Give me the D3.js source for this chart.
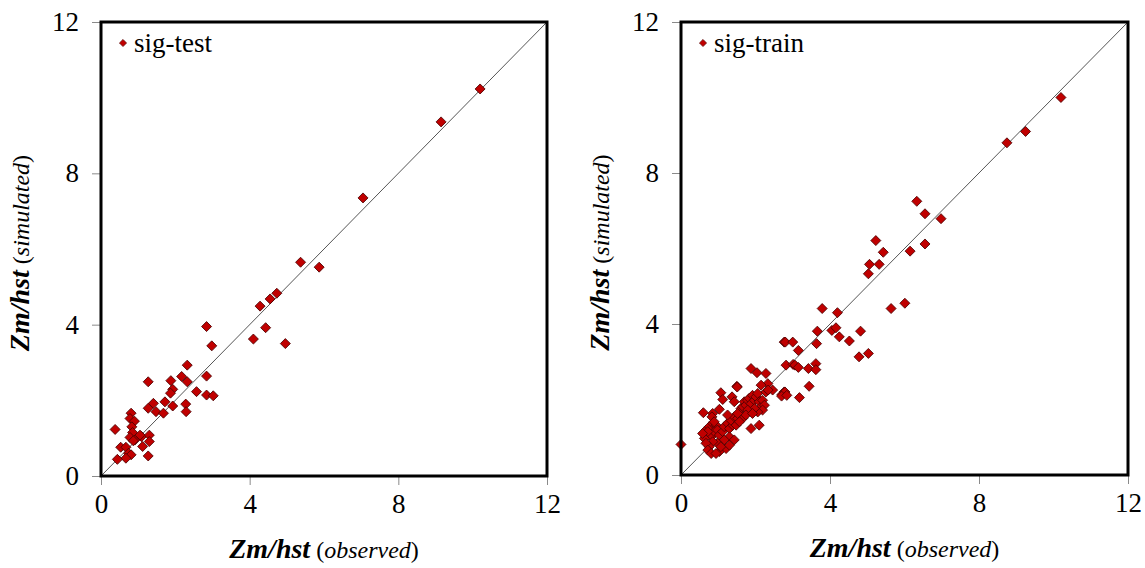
<!DOCTYPE html>
<html>
<head>
<meta charset="utf-8">
<script src="https://cdn.jsdelivr.net/npm/d3@7"></script>
<style>
  body { margin: 0; background: #fff; }
  svg text { font-family: "Liberation Serif", Tinos, "Times New Roman", "DejaVu Serif", serif; fill: #000; }
</style>
</head>
<body>
<svg id="chart" width="1145" height="568"></svg>
<script>
var axisTicks = [0, 4, 8, 12];
var axisMax = 12;
var serif = "'Liberation Serif', Tinos, 'Times New Roman', 'DejaVu Serif', serif";

// sig-test: observed vs simulated Zm/hst
var testObserved = [2.32, 1.27, 1.88, 2.17, 2.32, 2.84, 1.93, 1.87, 2.57, 2.84, 3.02, 1.72, 1.41, 1.27,
  1.48, 1.68, 1.93, 2.28, 2.29, 0.81, 0.78, 0.90, 0.38, 0.83, 0.85, 0.78, 0.91, 1.09, 1.30, 1.30,
  1.12, 0.53, 0.67, 0.74, 0.81, 0.67, 0.44, 1.27, 1.05, 0.87, 2.84, 2.98, 4.10, 4.28, 4.43, 4.55,
  4.73, 4.96, 5.37, 5.87, 7.05, 9.15, 10.20];
var testSimulated = [2.93, 2.49, 2.52, 2.63, 2.49, 2.64, 2.29, 2.19, 2.23, 2.14, 2.12, 1.96, 1.92, 1.79,
  1.70, 1.66, 1.85, 1.90, 1.70, 1.66, 1.52, 1.45, 1.23, 1.30, 1.15, 1.02, 0.95, 1.04, 1.08, 0.91,
  0.78, 0.76, 0.76, 0.60, 0.56, 0.47, 0.44, 0.53, 1.08, 0.93, 3.95, 3.44, 3.62, 4.49, 3.92, 4.68,
  4.83, 3.50, 5.65, 5.52, 7.35, 9.36, 10.23];

// sig-train: observed vs simulated Zm/hst
var trainObserved = [0.00, 0.67, 0.76, 0.85, 0.94, 0.81, 0.89, 0.98, 1.03, 1.12, 1.16, 1.25, 1.30, 1.39,
  1.34, 1.43, 1.52, 1.57, 1.61, 1.66, 1.70, 1.74, 1.79, 1.83, 1.88, 1.92, 1.97, 2.01, 2.06, 2.10,
  2.15, 2.19, 2.24, 2.19, 2.06, 1.97, 1.79, 1.66, 1.48, 1.30, 1.16, 0.98, 0.85, 0.76, 1.03, 1.21,
  1.43, 1.57, 1.74, 1.92, 2.28, 2.33, 2.46, 0.85, 0.72, 0.63, 1.50, 2.15, 1.07, 1.12, 0.60, 1.03,
  1.37, 1.43, 0.83, 0.89, 1.25, 1.52, 1.88, 2.10, 0.58, 0.67, 0.72, 0.81, 0.94, 1.07, 1.30, 1.88,
  2.04, 2.28, 2.82, 3.01, 2.71, 2.77, 3.79, 4.20, 3.66, 4.05, 4.16, 4.25, 4.52, 4.82, 4.78, 5.03,
  2.77, 2.80, 3.00, 3.64, 3.15, 3.06, 3.15, 3.42, 3.62, 3.62, 1.51, 3.44, 2.79, 2.70, 2.84, 3.18,
  2.34, 6.33, 6.55, 6.98, 5.23, 5.43, 5.06, 5.32, 5.03, 6.15, 6.55, 6.01, 5.64, 8.75, 9.25, 10.20];
var trainSimulated = [0.81, 1.19, 1.28, 1.37, 1.32, 1.01, 1.15, 1.19, 1.06, 1.15, 1.28, 1.37, 1.23, 1.32,
  1.45, 1.54, 1.50, 1.63, 1.76, 1.81, 1.94, 1.85, 1.98, 2.03, 1.89, 2.11, 1.98, 2.07, 2.16, 1.94,
  1.81, 1.98, 1.85, 1.72, 1.67, 1.76, 1.72, 1.50, 1.32, 1.01, 0.93, 0.84, 0.88, 0.75, 0.62, 0.70,
  0.93, 1.41, 1.59, 1.63, 2.20, 2.42, 2.25, 1.63, 1.15, 0.97, 2.35, 2.38, 2.18, 2.00, 1.65, 1.74,
  2.07, 1.94, 1.54, 1.41, 1.59, 1.63, 1.23, 1.32, 1.10, 0.84, 0.66, 0.57, 0.57, 0.75, 0.79, 2.82,
  2.71, 2.69, 2.91, 2.93, 2.13, 2.20, 4.41, 4.30, 3.81, 3.83, 3.90, 3.66, 3.55, 3.81, 3.13, 3.22,
  3.52, 3.52, 3.52, 3.48, 3.30, 2.91, 2.85, 2.82, 2.95, 2.79, 2.33, 2.35, 2.20, 2.09, 2.11, 2.05,
  2.25, 7.25, 6.92, 6.79, 6.21, 5.90, 5.58, 5.58, 5.33, 5.93, 6.12, 4.55, 4.41, 8.80, 9.10, 10.00];

function ScatterPanel(svg, left, top, width, height, name) {
  this.svg = svg;
  this.left = left;
  this.top = top;
  this.width = width;
  this.height = height;
  this.name = name;
}

ScatterPanel.prototype.draw = function(observed, simulated) {
  var xScale = d3.scaleLinear().domain([0, axisMax]).range([0, this.width]);
  var yScale = d3.scaleLinear().domain([0, axisMax]).range([this.height, 0]);
  var g = this.svg.append("g")
    .attr("font-family", serif)
    .attr("transform", "translate(" + this.left + "," + this.top + ")");

  g.append("g")
    .attr("class", "y axis")
    .call(d3.axisLeft(yScale).tickValues(axisTicks).tickSize(9).tickPadding(13).tickFormat(d3.format("d")));
  g.append("g")
    .attr("class", "x axis")
    .attr("transform", "translate(0," + this.height + ")")
    .call(d3.axisBottom(xScale).tickValues(axisTicks).tickSize(9).tickPadding(9).tickFormat(d3.format("d")));
  g.selectAll(".axis").attr("font-family", serif);
  g.selectAll(".axis .domain").remove();
  g.selectAll(".axis line").attr("stroke", "#8a8a8a").attr("stroke-width", 1);
  g.selectAll(".axis text").style("font-size", "27px").style("font-family", serif);

  // 1:1 line
  g.append("line")
    .attr("x1", xScale(0)).attr("y1", yScale(0))
    .attr("x2", xScale(axisMax)).attr("y2", yScale(axisMax))
    .attr("stroke", "#555").attr("stroke-width", 1);

  var pts = observed.map(function(d, i) { return [d, simulated[i]]; });
  var diamond = d3.symbol().type(d3.symbolSquare).size(50);
  g.append("g").attr("class", "dot")
    .selectAll("path")
    .data(pts)
    .enter()
    .append("path")
    .attr("d", diamond)
    .attr("transform", function(d) { return "translate(" + xScale(d[0]) + "," + yScale(d[1]) + ") rotate(45)"; })
    .attr("fill", "#c00000")
    .attr("stroke", "#4a0000")
    .attr("stroke-width", 0.8);

  // frame
  g.append("rect")
    .attr("x", 0).attr("y", 0)
    .attr("width", this.width).attr("height", this.height)
    .attr("fill", "none").attr("stroke", "#000").attr("stroke-width", 3);

  // legend
  g.append("path")
    .attr("d", d3.symbol().type(d3.symbolSquare).size(26))
    .attr("transform", "translate(22,21) rotate(45)")
    .attr("fill", "#c00000").attr("stroke", "#4a0000").attr("stroke-width", 0.6);
  g.append("text")
    .attr("x", 33).attr("y", 30)
    .style("font-family", serif)
    .style("font-size", "27px")
    .text(this.name);

  // axis titles
  var xt = g.append("text")
    .attr("x", this.width / 2).attr("y", this.height + 82)
    .attr("text-anchor", "middle")
    .style("font-family", serif);
  xt.append("tspan").style("font-style", "italic").style("font-weight", "bold").style("font-size", "28px").text("Zm/hst");
  xt.append("tspan").style("font-size", "24px").text(" (");
  xt.append("tspan").style("font-style", "italic").style("font-size", "24px").text("observed");
  xt.append("tspan").style("font-size", "24px").text(")");

  var yt = g.append("text")
    .attr("transform", "translate(-72," + (this.height / 2 + 4) + ") rotate(-90)")
    .attr("text-anchor", "middle")
    .style("font-family", serif);
  yt.append("tspan").style("font-style", "italic").style("font-weight", "bold").style("font-size", "28px").text("Zm/hst");
  yt.append("tspan").style("font-size", "24px").text(" (");
  yt.append("tspan").style("font-style", "italic").style("font-size", "24px").text("simulated");
  yt.append("tspan").style("font-size", "24px").text(")");
};

var svg = d3.select("#chart");
var testPanel = new ScatterPanel(svg, 101, 22, 446, 454, "sig-test");
testPanel.draw(testObserved, testSimulated);
var trainPanel = new ScatterPanel(svg, 681, 22, 447, 453, "sig-train");
trainPanel.draw(trainObserved, trainSimulated);
</script>
</body>
</html>
